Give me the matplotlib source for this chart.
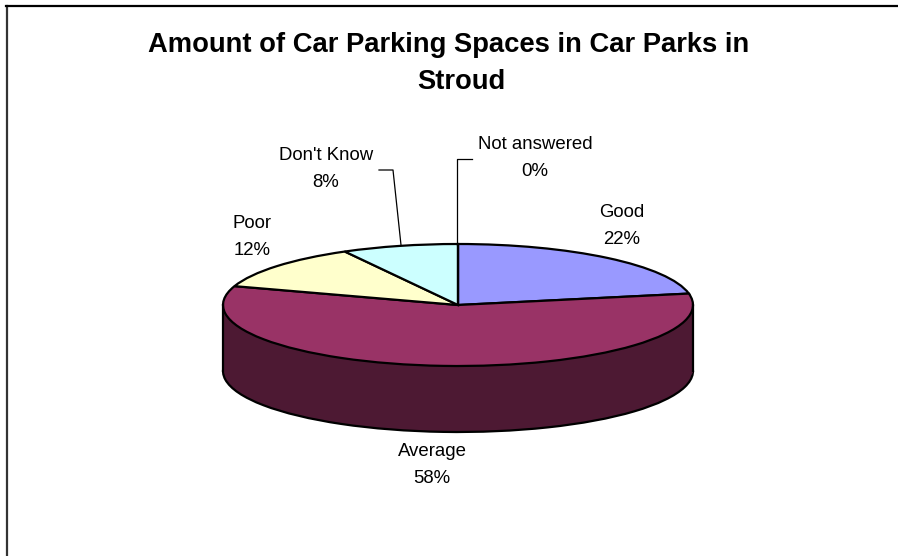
import matplotlib
matplotlib.use("Agg")
import matplotlib.pyplot as plt

# =====================================
# DATA
# =====================================
categories = ["Good", "Average", "Poor", "Don't Know", "Not answered"]
percents = [22, 58, 12, 8, 0]
top_colors = ["#9999FF", "#993366", "#FFFFCC", "#CCFFFF", "#660066"]
side_color = "#4D1933"
title_lines = ["Amount of Car Parking Spaces in Car Parks in", "Stroud"]

# =====================================
# LAYOUT (in pixels of the 898x556 picture)
# =====================================
W, H = 898, 556
CX, CY = 458, 305
RX, RY = 235, 61
DEPTH = 66

plt.rcParams["font.family"] = ["Liberation Sans", "DejaVu Sans"]

fig = plt.figure(figsize=(W / 100, H / 100), dpi=100, facecolor="white")
ax = fig.add_axes([0, 0, 1, 1])


def px(x, y):
    return (x - CX) / RX, (CY - y) / RY


# =====================================
# PIE: BOTTOM, WALL, TOP
# =====================================
d = DEPTH / RY
edge = {"edgecolor": "black", "linewidth": 1.6}

ax.pie(percents, colors=[side_color] * len(percents), startangle=90,
       counterclock=False, center=(0, -d), wedgeprops=edge)
# wall dips a little below the lower pie's centre to hide its slice edges
ax.fill_between([-1, -0.99, 0.99, 1], [-d, -d - 0.06, -d - 0.06, -d], [0, 0, 0, 0],
                color=side_color, linewidth=0)
ax.plot([-1, -1], [-d, 0], color="black", linewidth=1.6)
ax.plot([1, 1], [-d, 0], color="black", linewidth=1.6)
ax.pie(percents, colors=top_colors, startangle=90,
       counterclock=False, center=(0, 0), wedgeprops=edge)

ax.set_aspect("auto")
ax.set_xlim(px(0, 0)[0], px(W, 0)[0])
ax.set_ylim(px(0, H)[1], px(0, 0)[1])
ax.axis("off")

# =====================================
# LABELS
# =====================================
label_pos = [(622, 226), (432, 465), (252, 237), (326, 169), (535, 158)]
for name, value, (x, y) in zip(categories, percents, label_pos):
    ax.text(*px(x, y), f"{name}\n{value}%", ha="center", va="center",
            fontsize=13.4, linespacing=1.75, color="black")

# leader lines
for xs, ys in [((379, 393, 401), (170, 170, 245)),
               ((472, 457, 457), (159, 159, 245))]:
    pts = [px(a, b) for a, b in zip(xs, ys)]
    ax.plot([p[0] for p in pts], [p[1] for p in pts], color="black", linewidth=0.9)

# =====================================
# TITLE AND FRAME
# =====================================
title_pos = [(449, 52), (461, 89)]
for line, (x, y) in zip(title_lines, title_pos):
    ax.text(*px(x, y), line, ha="center", va="baseline", fontsize=19.7,
            fontweight="bold")

left = [px(7, H), px(7, 6)]
top = [px(6, 6), px(W, 6)]
ax.plot([p[0] for p in left], [p[1] for p in left], color="#333333", linewidth=1.6)
ax.plot([p[0] for p in top], [p[1] for p in top], color="black", linewidth=1.6)

fig.savefig("out.png", dpi=100)
